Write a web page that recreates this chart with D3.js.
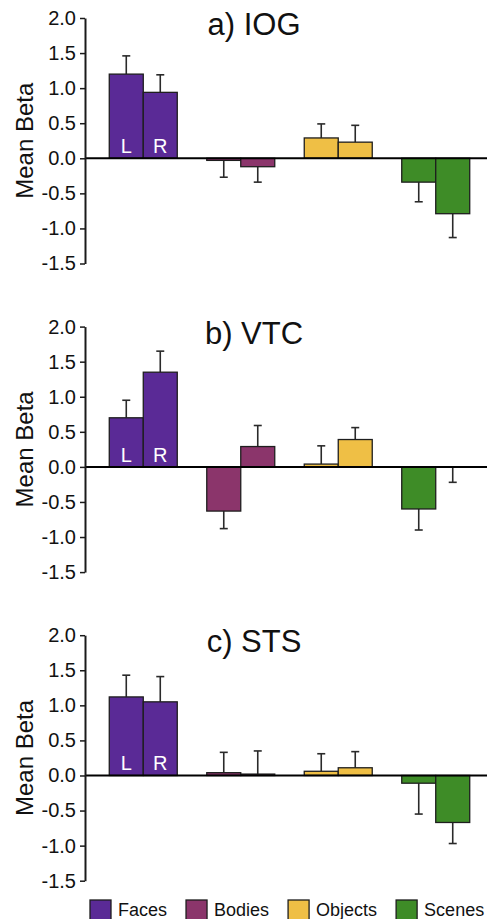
<!DOCTYPE html>
<html>
<head>
<meta charset="utf-8">
<script src="https://cdn.jsdelivr.net/npm/d3@7"></script>
<style>
  body { margin: 0; background: #fff; }
  svg { display: block; font-family: "Liberation Sans", Arial, sans-serif; }
</style>
</head>
<body>
<svg id="chart" width="487" height="919"></svg>
<script>
// categories + hemispheres
var categories = ["Faces", "Bodies", "Objects", "Scenes"];
var hemis = ["L", "R"];
var panelTitles = ["a) IOG", "b) VTC", "c) STS"];
var yTicks = [-1.5, -1.0, -0.5, 0.0, 0.5, 1.0, 1.5, 2.0];

// mean beta, left / right hemisphere, per category
var iogL = [1.20, -0.03, 0.29, -0.34];
var iogR = [0.94, -0.12, 0.23, -0.79];
var iogErrL = [0.26, 0.24, 0.20, 0.28];
var iogErrR = [0.25, 0.22, 0.24, 0.34];

var vtcL = [0.70, -0.63, 0.04, -0.60];
var vtcR = [1.35, 0.29, 0.39, -0.01];
var vtcErrL = [0.25, 0.25, 0.26, 0.30];
var vtcErrR = [0.30, 0.30, 0.17, 0.21];

var stsL = [1.12, 0.04, 0.06, -0.11];
var stsR = [1.05, 0.02, 0.11, -0.67];
var stsErrL = [0.31, 0.29, 0.25, 0.44];
var stsErrR = [0.36, 0.33, 0.23, 0.30];

var _colors = {
	Faces: "#5a2a96",
	Bodies: "#8b356b",
	Objects: "#efbf45",
	Scenes: "#3e8c27"
};

var panelData = [
	{L: iogL, R: iogR, eL: iogErrL, eR: iogErrR},
	{L: vtcL, R: vtcR, eL: vtcErrL, eR: vtcErrR},
	{L: stsL, R: stsR, eL: stsErrL, eR: stsErrR}
];

var svg = d3.select("#chart"),
	W = +svg.attr("width"),
	axisX = 85,
	plotH = 245.5,
	panelStep = 308.6,
	firstTop = 18;

// group positions
var x = d3.scaleBand()
	.domain(categories)
	.range([axisX, 494])
	.paddingInner(0.3026)
	.paddingOuter(0.249);
var xh = d3.scaleBand().domain(hemis).range([0, x.bandwidth()]);

panelData.forEach(function(pd, i) {
	var top = firstTop + i * panelStep;
	var y = d3.scaleLinear().domain([-1.5, 2.0]).range([top + plotH, top]);

	var rows = [];
	categories.forEach(function(c, k) {
		rows.push({cat: c, hemi: "L", v: pd.L[k], e: pd.eL[k]});
		rows.push({cat: c, hemi: "R", v: pd.R[k], e: pd.eR[k]});
	});

	var g = svg.append("g").attr("class", "panel");

	// error bars first (one-sided, away from zero)
	var eb = g.append("g").selectAll("g").data(rows).enter().append("g");
	eb.append("line")
		.attr("x1", function(d){ return x(d.cat) + xh(d.hemi) + xh.bandwidth() / 2; })
		.attr("x2", function(d){ return x(d.cat) + xh(d.hemi) + xh.bandwidth() / 2; })
		.attr("y1", function(d){ return y(d.v); })
		.attr("y2", function(d){ return y(d.v + (d.v >= 0 ? d.e : -d.e)); })
		.attr("stroke", "#2a2a2a").attr("stroke-width", 1.6);
	eb.append("line")
		.attr("x1", function(d){ return x(d.cat) + xh(d.hemi) + xh.bandwidth() / 2 - 4; })
		.attr("x2", function(d){ return x(d.cat) + xh(d.hemi) + xh.bandwidth() / 2 + 4; })
		.attr("y1", function(d){ return y(d.v + (d.v >= 0 ? d.e : -d.e)); })
		.attr("y2", function(d){ return y(d.v + (d.v >= 0 ? d.e : -d.e)); })
		.attr("stroke", "#2a2a2a").attr("stroke-width", 1.6);

	// bars
	g.append("g").selectAll("rect").data(rows).enter().append("rect")
		.attr("x", function(d){ return x(d.cat) + xh(d.hemi); })
		.attr("width", xh.bandwidth())
		.attr("y", function(d){ return y(Math.max(0, d.v)); })
		.attr("height", function(d){ return Math.abs(y(d.v) - y(0)); })
		.attr("fill", function(d){ return _colors[d.cat]; })
		.attr("stroke", function(d){ return Math.abs(d.v) < 0.02 ? "none" : "#1e1e1e"; })
		.attr("stroke-width", 1.3);

	// L / R labels on face bars
	g.append("g").selectAll("text").data(hemis).enter().append("text")
		.attr("x", function(h){ return x("Faces") + xh(h) + xh.bandwidth() / 2; })
		.attr("y", y(0) - 5.3)
		.attr("text-anchor", "middle")
		.attr("font-size", 20)
		.attr("fill", "#fff")
		.text(function(h){ return h; });

	// zero line
	g.append("line")
		.attr("x1", axisX).attr("x2", W)
		.attr("y1", y(0)).attr("y2", y(0))
		.attr("stroke", "#000").attr("stroke-width", 2);

	// y axis
	var yAxis = d3.axisLeft(y)
		.tickValues(yTicks)
		.tickFormat(function(d){ return d.toFixed(1); })
		.tickSize(5)
		.tickSizeOuter(0)
		.tickPadding(4);
	var ax = g.append("g")
		.attr("transform", "translate(" + axisX + ",0)")
		.call(yAxis);
	ax.select(".domain").attr("stroke", "#1a1a1a").attr("stroke-width", 2);
	ax.selectAll(".tick line").attr("stroke", "#1a1a1a").attr("stroke-width", 1.5);
	ax.selectAll(".tick text")
		.attr("font-size", 20)
		.attr("font-family", "Liberation Sans, Arial, sans-serif")
		.attr("fill", "#111");

	// y label
	g.append("text")
		.attr("transform", "translate(33.3," + (top + plotH / 2) + ") rotate(-90)")
		.attr("text-anchor", "middle")
		.attr("font-size", 24)
		.attr("fill", "#111")
		.text("Mean Beta");

	// title
	g.append("text")
		.attr("x", 254)
		.attr("y", top + 17)
		.attr("text-anchor", "middle")
		.attr("font-size", 31)
		.attr("fill", "#111")
		.text(panelTitles[i]);
});

// legend
var legend = svg.append("g").attr("class", "legend");
var lx = 90;
categories.forEach(function(c) {
	legend.append("rect")
		.attr("x", lx).attr("y", 900)
		.attr("width", 21).attr("height", 21)
		.attr("fill", _colors[c])
		.attr("stroke", "#1e1e1e").attr("stroke-width", 1.3);
	var t = legend.append("text")
		.attr("x", lx + 28).attr("y", 916)
		.attr("font-size", 18)
		.attr("fill", "#111")
		.text(c);
	lx += 28 + t.node().getComputedTextLength() + 19;
});
</script>
</body>
</html>
